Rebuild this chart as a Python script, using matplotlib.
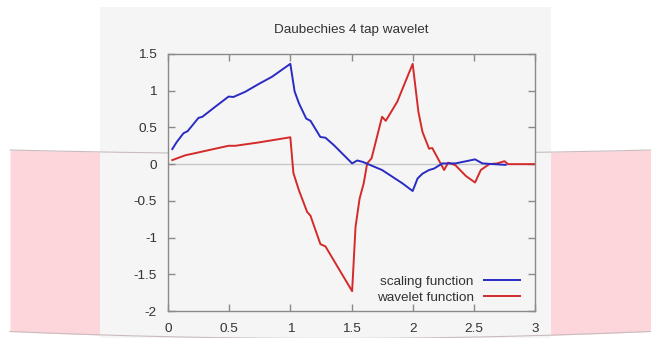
import matplotlib
matplotlib.use("Agg")
import matplotlib.pyplot as plt
import numpy as np

# Daubechies D4 scaling function (phi) and wavelet (psi), sampled values
scale_x = [0.035, 0.071, 0.126, 0.161, 0.249, 0.281, 0.385, 0.495, 0.535, 0.631,
           0.74, 0.85, 1.0, 1.035, 1.07, 1.13, 1.165, 1.245, 1.287, 1.355,
           1.505, 1.547, 1.593, 1.75, 1.915, 2.0, 2.04, 2.08, 2.134, 2.175,
           2.243, 2.35, 2.51, 2.57, 2.76]
scale_y = [0.205, 0.30, 0.42, 0.45, 0.63, 0.645, 0.78, 0.92, 0.915, 0.985,
           1.09, 1.19, 1.366, 0.99, 0.83, 0.62, 0.59, 0.37, 0.36, 0.26,
           0.01, 0.05, 0.03, -0.08, -0.26, -0.366, -0.195, -0.13, -0.08, -0.06,
           0.01, 0.01, 0.065, 0.01, -0.01]

wave_x = [0.035, 0.14, 0.25, 0.385, 0.495, 0.55, 0.74, 1.0, 1.025, 1.07,
          1.137, 1.164, 1.246, 1.287, 1.505, 1.533, 1.566, 1.60, 1.628, 1.664,
          1.75, 1.78, 1.874, 2.0, 2.047, 2.08, 2.134, 2.16, 2.257, 2.29,
          2.35, 2.434, 2.51, 2.557, 2.626, 2.69, 2.75, 2.78, 3.0]
wave_y = [0.055, 0.12, 0.16, 0.21, 0.25, 0.25, 0.295, 0.366, -0.12, -0.355,
          -0.65, -0.70, -1.09, -1.12, -1.73, -0.855, -0.47, -0.26, 0.01, 0.08,
          0.645, 0.59, 0.85, 1.366, 0.71, 0.44, 0.21, 0.22, -0.08, 0.02,
          -0.015, -0.16, -0.25, -0.08, 0.0, 0.01, 0.04, 0.0, 0.0]

x_ticks = [0, 0.5, 1, 1.5, 2, 2.5, 3]
x_tick_labels = ["0", "0.5", "1", "1.5", "2", "2.5", "3"]
y_ticks = [-2, -1.5, -1, -0.5, 0, 0.5, 1, 1.5]
y_tick_labels = ["-2", "-1.5", "-1", "-0.5", "0", "0.5", "1", "1.5"]

FONT = ["Liberation Sans", "DejaVu Sans"]
FS = 9.7
W, H = 651, 338

plt.rcParams["font.family"] = FONT

fig = plt.figure(figsize=(W / 100, H / 100), dpi=100, facecolor="white")

# backdrop: pink band and light grey panel, in pixel coordinates
bg = fig.add_axes([0, 0, 1, 1], zorder=0)
bg.set_xlim(0, W)
bg.set_ylim(H, 0)
bg.axis("off")
bx = np.linspace(10, W, 200)
bend = 1 - ((bx - 330) / 320) ** 2
top = 150 + 4 * bend
bot = 331.5 + 7 * bend
bg.fill_between(bx, top, bot, color="#fdd6db", lw=0)
bg.plot(bx, top, color="#c9bcbe", lw=0.8)
bg.plot(bx, bot, color="#c9bcbe", lw=0.8)
bg.add_patch(plt.Rectangle((100, 7), 451, H - 7, facecolor="#f5f5f5",
                           edgecolor="none"))

ax = fig.add_axes([168 / W, 1 - 311 / H, 367 / W, 257 / H], zorder=1)
ax.set_facecolor("#f5f5f5")
ax.set_xlim(0, 3)
ax.set_ylim(-2, 1.5)

ax.axhline(0, color="#c8c8c8", lw=1.0, zorder=1)
ax.plot(scale_x, scale_y, color="#2a2ac4", lw=1.4, label="scaling function",
        zorder=3)
ax.plot(wave_x, wave_y, color="#d42a2a", lw=1.4, label="wavelet function",
        zorder=2)

for s in ax.spines.values():
    s.set_color("#8a8a8a")
    s.set_linewidth(1.0)

ax.set_xticks(x_ticks)
ax.set_xticklabels(x_tick_labels)
ax.set_yticks(y_ticks)
ax.set_yticklabels(y_tick_labels)
ax.tick_params(direction="in", length=5, width=1.0, color="#8a8a8a",
               labelsize=FS, labelcolor="#333333", top=True, right=True)
ax.tick_params(axis="x", pad=9)
ax.tick_params(axis="y", pad=8)

leg = ax.legend(loc="lower right", bbox_to_anchor=(0.974, 0.008),
                frameon=False, markerfirst=False,
                fontsize=FS, handlelength=2.7, handletextpad=0.75,
                labelspacing=0.22, borderaxespad=0.0)
for t in leg.get_texts():
    t.set_color("#333333")

fig.text((168 + 535) / 2 / W, 1 - 30 / H, "Daubechies 4 tap wavelet",
         ha="center", va="center", fontsize=FS, color="#333333")

fig.savefig("out.png", dpi=100, facecolor="white")
